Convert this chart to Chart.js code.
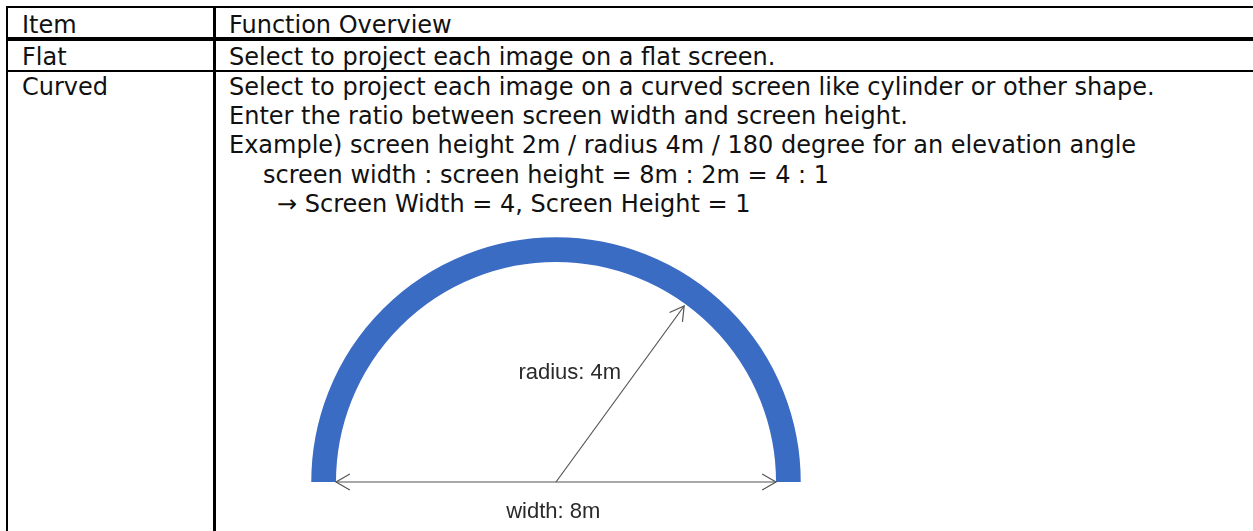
<!DOCTYPE html>
<html>
<head>
<meta charset="utf-8">
<script src="https://cdn.jsdelivr.net/npm/chart.js@4.4.1/dist/chart.umd.min.js"></script>
<style>
  html, body { margin: 0; padding: 0; background: #fff; width: 1253px; height: 531px; overflow: hidden; }
  body { position: relative; font-family: "DejaVu Sans", Verdana, sans-serif; font-size: 24px; color: #111; }
  .hl { position: absolute; left: 6px; right: 0; background: #000; }
  .vl { position: absolute; top: 6px; bottom: 0; background: #000; }
  .t { position: absolute; white-space: pre; line-height: 30px; }
  #diagram { position: absolute; left: 216px; top: 216px; }
</style>
</head>
<body>
<div class="hl" style="top:6px;height:2px"></div>
<div class="hl" style="top:37px;height:4px"></div>
<div class="hl" style="top:70px;height:2px"></div>
<div class="vl" style="left:6px;width:2px"></div>
<div class="vl" style="left:213px;width:3px"></div>
<div id="rows"></div>
<canvas id="diagram" width="1037" height="315"></canvas>
<script>
// table text
const headers = ['Item', 'Function Overview'];
const items = ['Flat', 'Curved'];
const flatLines = ['Select to project each image on a flat screen.'];
const curvedLines = [
  'Select to project each image on a curved screen like cylinder or other shape.',
  'Enter the ratio between screen width and screen height.',
  'Example) screen height 2m / radius 4m / 180 degree for an elevation angle',
  'screen width : screen height = 8m : 2m = 4 : 1',
  '\u2192 Screen Width = 4, Screen Height = 1'
];
const curvedIndent = [0, 0, 0, 34, 48];

// diagram values (metres)
const screenRadius = 4;
const screenThickness = 0.45;
const widthLineX = [-4, 4];
const widthLineY = [0, 0];
const radiusLineX = [0, 2.33];
const radiusLineY = [0, 3.2];
const labelTexts = ['radius: 4m', 'width: 8m'];
const labelX = [0.25, -0.05];
const labelY = [1.98, -0.55];

function addText(txt, left, top) {
  const d = document.createElement('div');
  d.className = 't';
  d.style.left = left + 'px';
  d.style.top = top + 'px';
  d.textContent = txt;
  document.getElementById('rows').appendChild(d);
}

addText(headers[0], 22, 10);
addText(headers[1], 229, 10);
addText(items[0], 22, 42);
flatLines.forEach((l, i) => addText(l, 229, 42 + i * 29.2));
addText(items[1], 22, 72);
curvedLines.forEach((l, i) => addText(l, 229 + curvedIndent[i], 72 + i * 29.2));

// layout of the drawing: 55 px per metre, origin at bottom centre of the arc
const PX = 55;
const cw = 1037, ch = 315;
const ox = 340, oy = 266;

const arcPlugin = {
  id: 'arcScreen',
  beforeDatasetsDraw(chart) {
    const { ctx, scales: { x, y } } = chart;
    const cx = x.getPixelForValue(0);
    const cy = y.getPixelForValue(0);
    const rMid = x.getPixelForValue(screenRadius + screenThickness / 2) - cx;
    const lw = x.getPixelForValue(screenThickness) - cx;
    ctx.save();
    ctx.beginPath();
    ctx.arc(cx, cy, rMid, Math.PI, 0);
    ctx.lineWidth = lw;
    ctx.lineCap = 'butt';
    ctx.strokeStyle = 'rgb(59,108,196)';
    ctx.stroke();
    ctx.restore();
  }
};

function head(ctx, tip, from, len) {
  const ang = Math.atan2(from.y - tip.y, from.x - tip.x);
  const a = Math.PI / 6;
  ctx.beginPath();
  ctx.moveTo(tip.x + len * Math.cos(ang + a), tip.y + len * Math.sin(ang + a));
  ctx.lineTo(tip.x, tip.y);
  ctx.lineTo(tip.x + len * Math.cos(ang - a), tip.y + len * Math.sin(ang - a));
  ctx.stroke();
}

const arrowPlugin = {
  id: 'arrows',
  afterDatasetsDraw(chart) {
    const ctx = chart.ctx;
    ctx.save();
    ctx.strokeStyle = '#555';
    ctx.lineWidth = 1.2;
    // width arrow: both ends
    const w = chart.getDatasetMeta(0).data;
    head(ctx, w[0], w[1], 16);
    head(ctx, w[1], w[0], 16);
    // radius arrow: outer end
    const r = chart.getDatasetMeta(1).data;
    head(ctx, r[1], r[0], 16);
    // labels
    const { x, y } = chart.scales;
    ctx.fillStyle = '#2a2a2a';
    ctx.font = '22px "Liberation Sans", Arial, sans-serif';
    ctx.textAlign = 'center';
    ctx.textBaseline = 'middle';
    labelTexts.forEach((t, i) => ctx.fillText(t, x.getPixelForValue(labelX[i]), y.getPixelForValue(labelY[i])));
    ctx.restore();
  }
};

new Chart(document.getElementById('diagram'), {
  type: 'scatter',
  data: {
    datasets: [
      { data: widthLineX.map((v, i) => ({ x: v, y: widthLineY[i] })), showLine: true },
      { data: radiusLineX.map((v, i) => ({ x: v, y: radiusLineY[i] })), showLine: true }
    ].map(d => Object.assign(d, { borderColor: '#555', borderWidth: 1.2, pointRadius: 0 }))
  },
  options: {
    responsive: false,
    animation: false,
    devicePixelRatio: 1,
    layout: { padding: 0 },
    plugins: { legend: { display: false }, tooltip: { enabled: false } },
    scales: {
      x: { type: 'linear', display: false, min: -ox / PX, max: (cw - ox) / PX },
      y: { type: 'linear', display: false, min: -(ch - oy) / PX, max: oy / PX }
    }
  },
  plugins: [arcPlugin, arrowPlugin]
});
</script>
</body>
</html>
